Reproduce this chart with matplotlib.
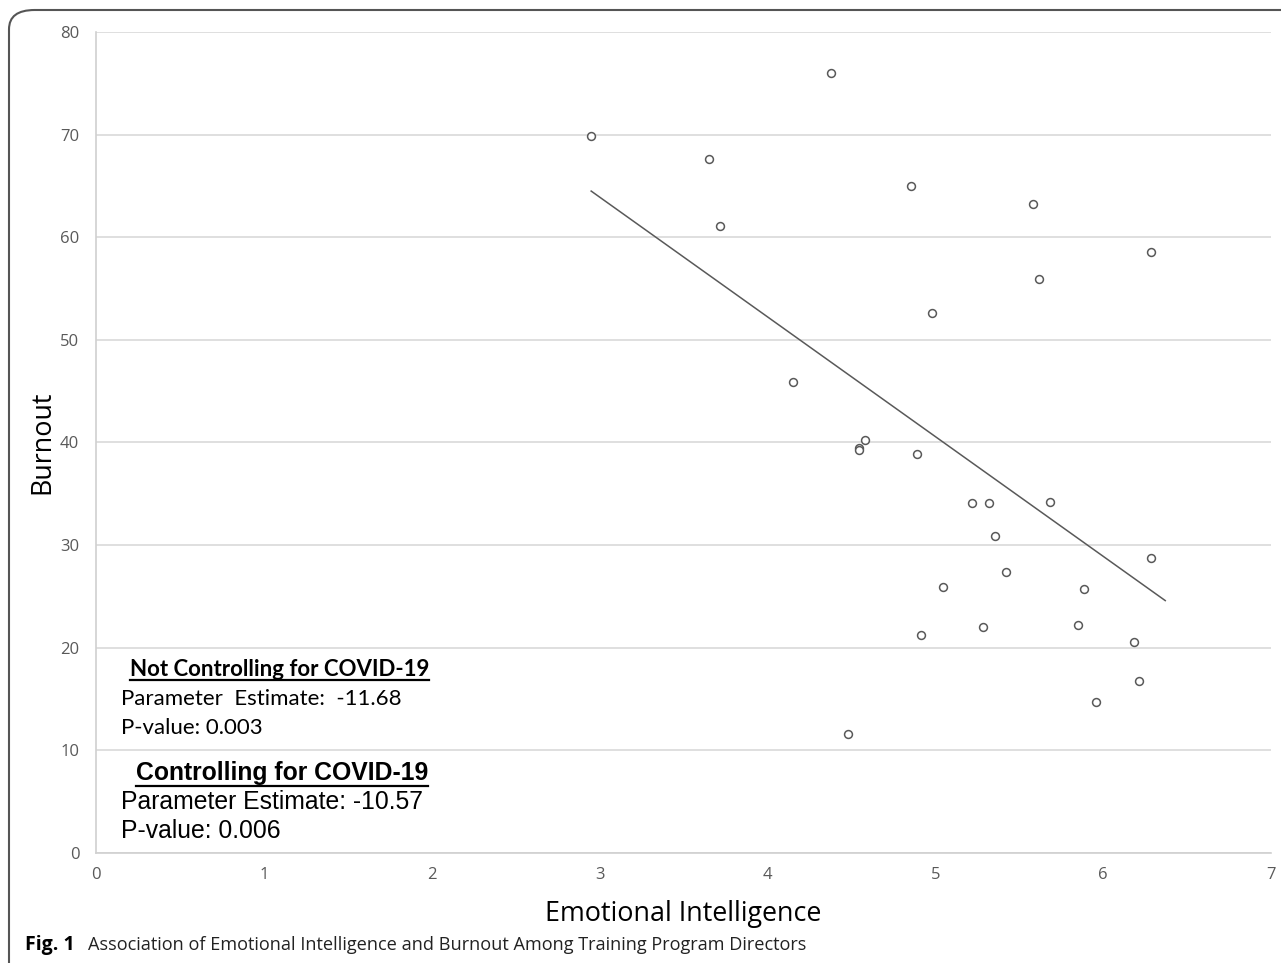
import numpy as np
import matplotlib
matplotlib.use("Agg")
import matplotlib.pyplot as plt
from matplotlib.patches import FancyBboxPatch
from matplotlib.lines import Line2D

# Data
ei = [2.95, 4.38, 3.65, 3.72, 4.855, 5.58, 6.285, 5.62, 4.98, 4.15, 4.58, 4.545, 4.545,
      4.89, 5.22, 5.32, 5.685, 5.355, 6.285, 5.42, 5.045, 5.885, 4.915, 5.285, 5.85,
      6.185, 6.215, 5.955, 4.48]
burnout = [69.9, 76.0, 67.6, 61.1, 65.0, 63.2, 58.6, 55.9, 52.6, 45.9, 40.2, 39.5, 39.3,
           38.9, 34.1, 34.1, 34.2, 30.9, 28.7, 27.4, 25.9, 25.7, 21.2, 22.0, 22.2,
           20.6, 16.8, 14.7, 11.6]
trend_x = [2.95, 6.37]
xticks = [0, 1, 2, 3, 4, 5, 6, 7]
yticks = [0, 10, 20, 30, 40, 50, 60, 70, 80]

W, H = 1281, 963
fig = plt.figure(figsize=(W / 100, H / 100), dpi=100)

# outer frame
frame = FancyBboxPatch((9 / W, -0.05), 1.1, (H - 10) / H + 0.05,
                       boxstyle="round,pad=0,rounding_size=0.02",
                       transform=fig.transFigure, fill=False,
                       edgecolor="#555555", linewidth=1.5, clip_on=False)
fig.patches.append(frame)

ax = fig.add_axes([96 / W, 1 - 853 / H, (1271 - 96) / W, (853 - 32) / H])
ax.set_xlim(0, 7)
ax.set_ylim(0, 80)
ax.set_xticks(xticks)
ax.set_yticks(yticks)
ax.grid(axis="y", color="#d9d9d9", linewidth=1.2)
ax.set_axisbelow(True)
for s in ["top", "right"]:
    ax.spines[s].set_visible(False)
for s in ["left", "bottom"]:
    ax.spines[s].set_color("#d0d0d0")
    ax.spines[s].set_linewidth(1.2)
ax.tick_params(length=0, colors="#595959", labelsize=12)
for lab in ax.get_xticklabels() + ax.get_yticklabels():
    lab.set_family("Open Sans")
ax.tick_params(axis="x", pad=10)
ax.tick_params(axis="y", pad=12)

ax.scatter(ei, burnout, s=32, facecolors="white", edgecolors="#595959",
           linewidths=1.1, zorder=3)

coef = np.polyfit(ei, burnout, 1)
tx = np.array(trend_x)
ax.plot(tx, np.polyval(coef, tx), color="#595959", linewidth=1.1, zorder=2)

ax.set_xlabel("Emotional Intelligence", fontsize=19.4, family="Open Sans",
              color="black", labelpad=12)
ax.set_ylabel("Burnout", fontsize=19.4, family="Open Sans", color="black",
              labelpad=3)

# annotations
t1 = fig.text(130 / W, 1 - 669 / H, "Not Controlling for COVID-19", fontsize=16,
              family="Lato", weight="bold", va="center", ha="left")
fig.text(121 / W, 1 - 699 / H, "Parameter  Estimate:  -11.68", fontsize=16,
         family="Lato", va="center", ha="left")
fig.text(121 / W, 1 - 728 / H, "P-value: 0.003", fontsize=16,
         family="Lato", va="center", ha="left")
t2 = fig.text(136 / W, 1 - 773 / H, "Controlling for COVID-19", fontsize=17.8,
              family="Liberation Sans", weight="bold", va="center", ha="left")
fig.text(121 / W, 1 - 802 / H, "Parameter Estimate: -10.57", fontsize=17.8,
         family="Liberation Sans", va="center", ha="left")
fig.text(121 / W, 1 - 831 / H, "P-value: 0.006", fontsize=17.8,
         family="Liberation Sans", va="center", ha="left")

# caption
fig.text(25 / W, 1 - 945 / H, "Fig. 1", fontsize=14, family="Open Sans",
         weight="bold", va="center", ha="left")
fig.text(88 / W, 1 - 945 / H,
         "Association of Emotional Intelligence and Burnout Among Training Program Directors",
         fontsize=13.1, family="Open Sans", va="center", ha="left", color="#222222")

# underline headers
fig.canvas.draw()
r = fig.canvas.get_renderer()
for t in (t1, t2):
    bb = t.get_window_extent(r)
    yy = (bb.y0 - 1) / H
    fig.add_artist(Line2D([bb.x0 / W, bb.x1 / W], [yy, yy], color="black",
                          linewidth=1.6, transform=fig.transFigure))

fig.savefig("out.png", dpi=100)
